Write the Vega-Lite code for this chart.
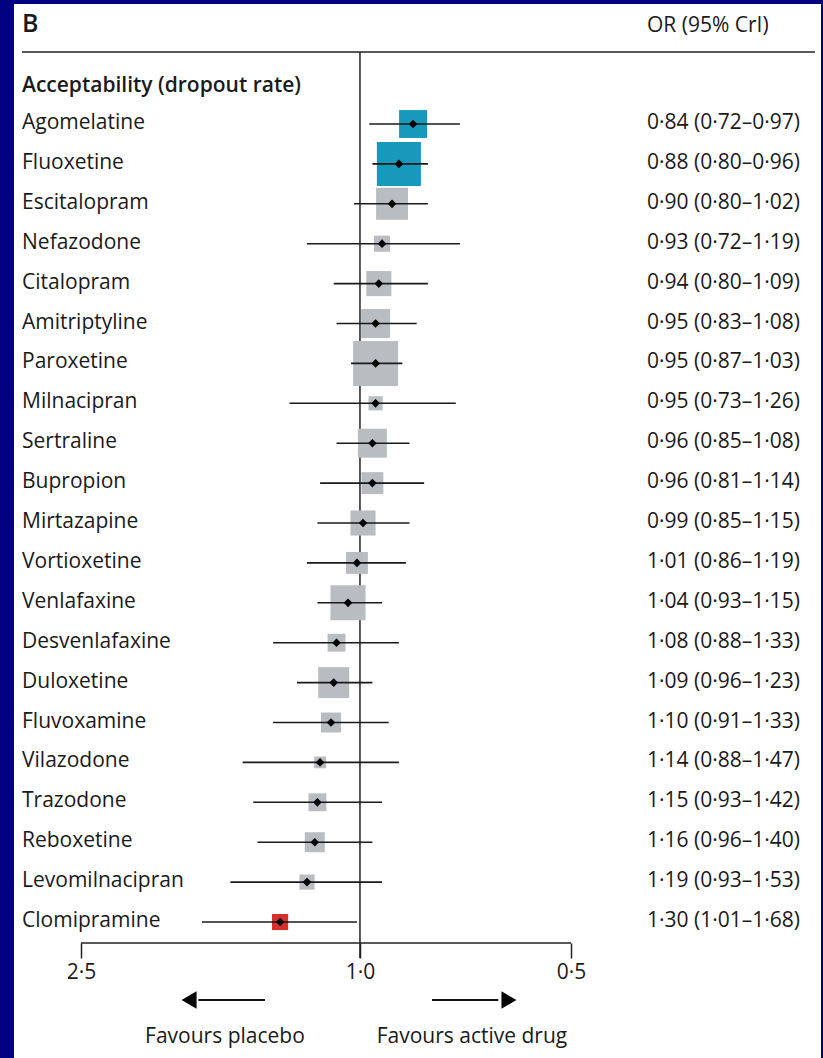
{
  "$schema": "https://vega.github.io/schema/vega-lite/v6.json",
  "width": 807,
  "height": 1054,
  "autosize": {"type": "none"},
  "padding": {"left": 14, "top": 4, "right": 2, "bottom": 0},
  "background": "#000080",
  "config": {
    "view": {"fill": "white", "stroke": null},
    "font": "Open Sans",
    "text": {"font": "Open Sans", "color": "#1a1a1a"}
  },
  "data": {
    "values": [
      {"rank": 1, "drug": "Agomelatine", "or": 0.84, "lo": 0.72, "hi": 0.97, "label": "0·84 (0·72–0·97)", "group": "favours drug", "weight": 7.8},
      {"rank": 2, "drug": "Fluoxetine", "or": 0.88, "lo": 0.80, "hi": 0.96, "label": "0·88 (0·80–0·96)", "group": "favours drug", "weight": 19.4},
      {"rank": 3, "drug": "Escitalopram", "or": 0.90, "lo": 0.80, "hi": 1.02, "label": "0·90 (0·80–1·02)", "group": "no difference", "weight": 10.2},
      {"rank": 4, "drug": "Nefazodone", "or": 0.93, "lo": 0.72, "hi": 1.19, "label": "0·93 (0·72–1·19)", "group": "no difference", "weight": 2.6},
      {"rank": 5, "drug": "Citalopram", "or": 0.94, "lo": 0.80, "hi": 1.09, "label": "0·94 (0·80–1·09)", "group": "no difference", "weight": 6.3},
      {"rank": 6, "drug": "Amitriptyline", "or": 0.95, "lo": 0.83, "hi": 1.08, "label": "0·95 (0·83–1·08)", "group": "no difference", "weight": 8.4},
      {"rank": 7, "drug": "Paroxetine", "or": 0.95, "lo": 0.87, "hi": 1.03, "label": "0·95 (0·87–1·03)", "group": "no difference", "weight": 20.2},
      {"rank": 8, "drug": "Milnacipran", "or": 0.95, "lo": 0.73, "hi": 1.26, "label": "0·95 (0·73–1·26)", "group": "no difference", "weight": 2.0},
      {"rank": 9, "drug": "Sertraline", "or": 0.96, "lo": 0.85, "hi": 1.08, "label": "0·96 (0·85–1·08)", "group": "no difference", "weight": 8.4},
      {"rank": 10, "drug": "Bupropion", "or": 0.96, "lo": 0.81, "hi": 1.14, "label": "0·96 (0·81–1·14)", "group": "no difference", "weight": 4.8},
      {"rank": 11, "drug": "Mirtazapine", "or": 0.99, "lo": 0.85, "hi": 1.15, "label": "0·99 (0·85–1·15)", "group": "no difference", "weight": 6.3},
      {"rank": 12, "drug": "Vortioxetine", "or": 1.01, "lo": 0.86, "hi": 1.19, "label": "1·01 (0·86–1·19)", "group": "no difference", "weight": 4.8},
      {"rank": 13, "drug": "Venlafaxine", "or": 1.04, "lo": 0.93, "hi": 1.15, "label": "1·04 (0·93–1·15)", "group": "no difference", "weight": 12.3},
      {"rank": 14, "drug": "Desvenlafaxine", "or": 1.08, "lo": 0.88, "hi": 1.33, "label": "1·08 (0·88–1·33)", "group": "no difference", "weight": 3.2},
      {"rank": 15, "drug": "Duloxetine", "or": 1.09, "lo": 0.96, "hi": 1.23, "label": "1·09 (0·96–1·23)", "group": "no difference", "weight": 9.6},
      {"rank": 16, "drug": "Fluvoxamine", "or": 1.10, "lo": 0.91, "hi": 1.33, "label": "1·10 (0·91–1·33)", "group": "no difference", "weight": 4.0},
      {"rank": 17, "drug": "Vilazodone", "or": 1.14, "lo": 0.88, "hi": 1.47, "label": "1·14 (0·88–1·47)", "group": "no difference", "weight": 1.4},
      {"rank": 18, "drug": "Trazodone", "or": 1.15, "lo": 0.93, "hi": 1.42, "label": "1·15 (0·93–1·42)", "group": "no difference", "weight": 3.2},
      {"rank": 19, "drug": "Reboxetine", "or": 1.16, "lo": 0.96, "hi": 1.40, "label": "1·16 (0·96–1·40)", "group": "no difference", "weight": 4.0},
      {"rank": 20, "drug": "Levomilnacipran", "or": 1.19, "lo": 0.93, "hi": 1.53, "label": "1·19 (0·93–1·53)", "group": "no difference", "weight": 2.3},
      {"rank": 21, "drug": "Clomipramine", "or": 1.30, "lo": 1.01, "hi": 1.68, "label": "1·30 (1·01–1·68)", "group": "favours placebo", "weight": 2.6}
    ]
  },
  "layer": [
    {
      "data": {"values": [{}]},
      "mark": {"type": "rule", "color": "#222222", "strokeWidth": 1.5},
      "encoding": {
        "x": {"datum": 3.034, "type": "quantitative", "scale": {"type": "log", "domain": [0.22, 3.115], "reverse": true, "nice": false, "zero": false}},
        "x2": {"datum": 0.2244},
        "y": {"datum": -0.8045, "type": "quantitative", "scale": {"domain": [-2.0075, 24.408], "reverse": true, "nice": false, "zero": false}, "axis": null}
      }
    },
    {
      "data": {"values": [{}]},
      "mark": {"type": "rule", "color": "#222222", "strokeWidth": 1.5},
      "encoding": {
        "x": {"datum": 1, "type": "quantitative", "scale": {"type": "log", "domain": [0.22, 3.115], "reverse": true, "nice": false, "zero": false}},
        "y": {"datum": -0.8045, "type": "quantitative", "scale": {"domain": [-2.0075, 24.408], "reverse": true, "nice": false, "zero": false}, "axis": null},
        "y2": {"datum": 21.9}
      }
    },
    {
      "data": {"values": [{}]},
      "mark": {"type": "rule", "color": "#222222", "strokeWidth": 1.5},
      "encoding": {
        "x": {"datum": 2.5, "type": "quantitative", "scale": {"type": "log", "domain": [0.22, 3.115], "reverse": true, "nice": false, "zero": false}},
        "x2": {"datum": 0.5},
        "y": {"datum": 21.526, "type": "quantitative", "scale": {"domain": [-2.0075, 24.408], "reverse": true, "nice": false, "zero": false}, "axis": null}
      }
    },
    {
      "mark": {"type": "square", "opacity": 1, "filled": true},
      "encoding": {
        "x": {
          "field": "or", "type": "quantitative",
          "scale": {"type": "log", "domain": [0.22, 3.115], "reverse": true, "nice": false, "zero": false},
          "axis": {
            "orient": "bottom", "offset": -115, "values": [0.5, 1, 2.5], "domain": false, "grid": false,
            "tickSize": 15, "tickWidth": 1.5, "tickColor": "#222222",
            "labelExpr": "replace(format(datum.value, '.1f'), '.', '·')",
            "labelFont": "Open Sans", "labelFontSize": 21, "labelColor": "#1a1a1a", "labelPadding": 3,
            "labelFlush": false, "labelOverlap": false, "labelBound": false, "title": null
          }
        },
        "y": {"field": "rank", "type": "quantitative", "scale": {"domain": [-2.0075, 24.408], "reverse": true, "nice": false, "zero": false}, "axis": null},
        "size": {"field": "weight", "type": "quantitative", "scale": {"type": "linear", "domain": [0, 20], "range": [0, 2000], "zero": true}, "legend": null},
        "color": {"field": "group", "type": "nominal", "scale": {"domain": ["favours drug", "no difference", "favours placebo"], "range": ["#1699bb", "#b9bdc2", "#d6302b"]}, "legend": null}
      }
    },
    {
      "mark": {"type": "rule", "color": "#1a1a1a", "strokeWidth": 1.6},
      "encoding": {
        "x": {"field": "lo", "type": "quantitative", "scale": {"type": "log", "domain": [0.22, 3.115], "reverse": true, "nice": false, "zero": false}},
        "x2": {"field": "hi"},
        "y": {"field": "rank", "type": "quantitative", "scale": {"domain": [-2.0075, 24.408], "reverse": true, "nice": false, "zero": false}, "axis": null}
      }
    },
    {
      "mark": {"type": "point", "shape": "diamond", "filled": true, "color": "#000000", "opacity": 1, "size": 75},
      "encoding": {
        "x": {"field": "or", "type": "quantitative", "scale": {"type": "log", "domain": [0.22, 3.115], "reverse": true, "nice": false, "zero": false}},
        "y": {"field": "rank", "type": "quantitative", "scale": {"domain": [-2.0075, 24.408], "reverse": true, "nice": false, "zero": false}, "axis": null}
      }
    },
    {
      "mark": {"type": "text", "align": "left", "baseline": "alphabetic", "dy": 5, "fontSize": 21},
      "encoding": {
        "x": {"datum": 3.034, "type": "quantitative", "scale": {"type": "log", "domain": [0.22, 3.115], "reverse": true, "nice": false, "zero": false}},
        "y": {"field": "rank", "type": "quantitative", "scale": {"domain": [-2.0075, 24.408], "reverse": true, "nice": false, "zero": false}, "axis": null},
        "text": {"field": "drug"}
      }
    },
    {
      "mark": {"type": "text", "align": "left", "baseline": "alphabetic", "dy": 5, "fontSize": 21},
      "encoding": {
        "x": {"datum": 0.3896, "type": "quantitative", "scale": {"type": "log", "domain": [0.22, 3.115], "reverse": true, "nice": false, "zero": false}},
        "y": {"field": "rank", "type": "quantitative", "scale": {"domain": [-2.0075, 24.408], "reverse": true, "nice": false, "zero": false}, "axis": null},
        "text": {"field": "label"}
      }
    },
    {
      "data": {"values": [{"t": "B"}]},
      "mark": {"type": "text", "align": "left", "baseline": "alphabetic", "fontSize": 25, "fontWeight": 600},
      "encoding": {
        "x": {"datum": 3.034, "type": "quantitative", "scale": {"type": "log", "domain": [0.22, 3.115], "reverse": true, "nice": false, "zero": false}},
        "y": {"datum": -1.306, "type": "quantitative", "scale": {"domain": [-2.0075, 24.408], "reverse": true, "nice": false, "zero": false}, "axis": null},
        "text": {"field": "t"}
      }
    },
    {
      "data": {"values": [{"t": "OR (95% CrI)"}]},
      "mark": {"type": "text", "align": "left", "baseline": "alphabetic", "fontSize": 21},
      "encoding": {
        "x": {"datum": 0.3896, "type": "quantitative", "scale": {"type": "log", "domain": [0.22, 3.115], "reverse": true, "nice": false, "zero": false}},
        "y": {"datum": -1.306, "type": "quantitative", "scale": {"domain": [-2.0075, 24.408], "reverse": true, "nice": false, "zero": false}, "axis": null},
        "text": {"field": "t"}
      }
    },
    {
      "data": {"values": [{"t": "Acceptability (dropout rate)"}]},
      "mark": {"type": "text", "align": "left", "baseline": "alphabetic", "fontSize": 21, "fontWeight": 600},
      "encoding": {
        "x": {"datum": 3.034, "type": "quantitative", "scale": {"type": "log", "domain": [0.22, 3.115], "reverse": true, "nice": false, "zero": false}},
        "y": {"datum": 0.198, "type": "quantitative", "scale": {"domain": [-2.0075, 24.408], "reverse": true, "nice": false, "zero": false}, "axis": null},
        "text": {"field": "t"}
      }
    },
    {
      "data": {"values": [{"t": "Favours placebo"}]},
      "mark": {"type": "text", "align": "center", "baseline": "alphabetic", "fontSize": 21},
      "encoding": {
        "x": {"datum": 1.558, "type": "quantitative", "scale": {"type": "log", "domain": [0.22, 3.115], "reverse": true, "nice": false, "zero": false}},
        "y": {"datum": 24.033, "type": "quantitative", "scale": {"domain": [-2.0075, 24.408], "reverse": true, "nice": false, "zero": false}, "axis": null},
        "text": {"field": "t"}
      }
    },
    {
      "data": {"values": [{"t": "Favours active drug"}]},
      "mark": {"type": "text", "align": "center", "baseline": "alphabetic", "fontSize": 21},
      "encoding": {
        "x": {"datum": 0.6922, "type": "quantitative", "scale": {"type": "log", "domain": [0.22, 3.115], "reverse": true, "nice": false, "zero": false}},
        "y": {"datum": 24.033, "type": "quantitative", "scale": {"domain": [-2.0075, 24.408], "reverse": true, "nice": false, "zero": false}, "axis": null},
        "text": {"field": "t"}
      }
    },
    {
      "data": {"values": [{}]},
      "mark": {"type": "rule", "color": "#111111", "strokeWidth": 2},
      "encoding": {
        "x": {"datum": 1.366, "type": "quantitative", "scale": {"type": "log", "domain": [0.22, 3.115], "reverse": true, "nice": false, "zero": false}},
        "x2": {"datum": 1.70},
        "y": {"datum": 22.955, "type": "quantitative", "scale": {"domain": [-2.0075, 24.408], "reverse": true, "nice": false, "zero": false}, "axis": null}
      }
    },
    {
      "data": {"values": [{}]},
      "mark": {"type": "rule", "color": "#111111", "strokeWidth": 2},
      "encoding": {
        "x": {"datum": 0.7894, "type": "quantitative", "scale": {"type": "log", "domain": [0.22, 3.115], "reverse": true, "nice": false, "zero": false}},
        "x2": {"datum": 0.635},
        "y": {"datum": 22.955, "type": "quantitative", "scale": {"domain": [-2.0075, 24.408], "reverse": true, "nice": false, "zero": false}, "axis": null}
      }
    },
    {
      "data": {"values": [{}]},
      "mark": {"type": "point", "shape": "triangle-left", "filled": true, "color": "#000000", "opacity": 1, "size": 300},
      "encoding": {
        "x": {"datum": 1.753, "type": "quantitative", "scale": {"type": "log", "domain": [0.22, 3.115], "reverse": true, "nice": false, "zero": false}},
        "y": {"datum": 22.955, "type": "quantitative", "scale": {"domain": [-2.0075, 24.408], "reverse": true, "nice": false, "zero": false}, "axis": null}
      }
    },
    {
      "data": {"values": [{}]},
      "mark": {"type": "point", "shape": "triangle-right", "filled": true, "color": "#000000", "opacity": 1, "size": 300},
      "encoding": {
        "x": {"datum": 0.613, "type": "quantitative", "scale": {"type": "log", "domain": [0.22, 3.115], "reverse": true, "nice": false, "zero": false}},
        "y": {"datum": 22.955, "type": "quantitative", "scale": {"domain": [-2.0075, 24.408], "reverse": true, "nice": false, "zero": false}, "axis": null}
      }
    }
  ]
}
